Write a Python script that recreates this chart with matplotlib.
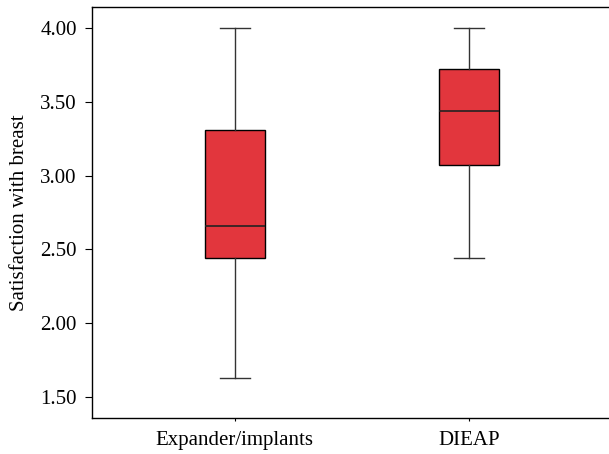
import matplotlib
matplotlib.use("Agg")
import matplotlib.pyplot as plt

plt.rcParams['font.family'] = ['Liberation Serif', 'DejaVu Serif']

# data
groups = ['Expander/implants', 'DIEAP']
whis_low = [1.63, 2.44]
q1 = [2.44, 3.07]
median = [2.66, 3.44]
q3 = [3.31, 3.72]
whis_high = [4.00, 4.00]

stats = []
for i in range(len(groups)):
    stats.append(dict(label=groups[i], whislo=whis_low[i], q1=q1[i], med=median[i],
                      q3=q3[i], whishi=whis_high[i], fliers=[]))

fig = plt.figure(figsize=(6.09, 4.54), dpi=100)
ax = fig.add_axes([0.151, 0.0793, 0.849, 0.9053])

ax.bxp(stats, positions=[1, 2], widths=0.255, patch_artist=True, showfliers=False,
       boxprops=dict(facecolor='#E2363D', edgecolor='black', linewidth=1.0),
       medianprops=dict(color='#222222', linewidth=1.2),
       whiskerprops=dict(color='#333333', linewidth=1.0),
       capprops=dict(color='#333333', linewidth=1.0),
       capwidths=0.127)

ax.set_xlim(0.389, 2.6)
ax.set_ylim(1.358, 4.142)
ax.set_yticks([1.5, 2.0, 2.5, 3.0, 3.5, 4.0])
ax.set_yticklabels(['1.50', '2.00', '2.50', '3.00', '3.50', '4.00'])
ax.set_xticks([1, 2])
ax.set_xticklabels(groups)
ax.set_ylabel('Satisfaction with breast', fontsize=15, labelpad=8)
ax.tick_params(axis='both', labelsize=15)
ax.tick_params(axis='y', length=5, width=0.8, pad=6)
ax.tick_params(axis='x', length=2.5, width=0.8, pad=7)
ax.spines['right'].set_visible(False)
for s in ['left', 'top', 'bottom']:
    ax.spines[s].set_linewidth(1.0)

fig.savefig('out.png', dpi=100)
